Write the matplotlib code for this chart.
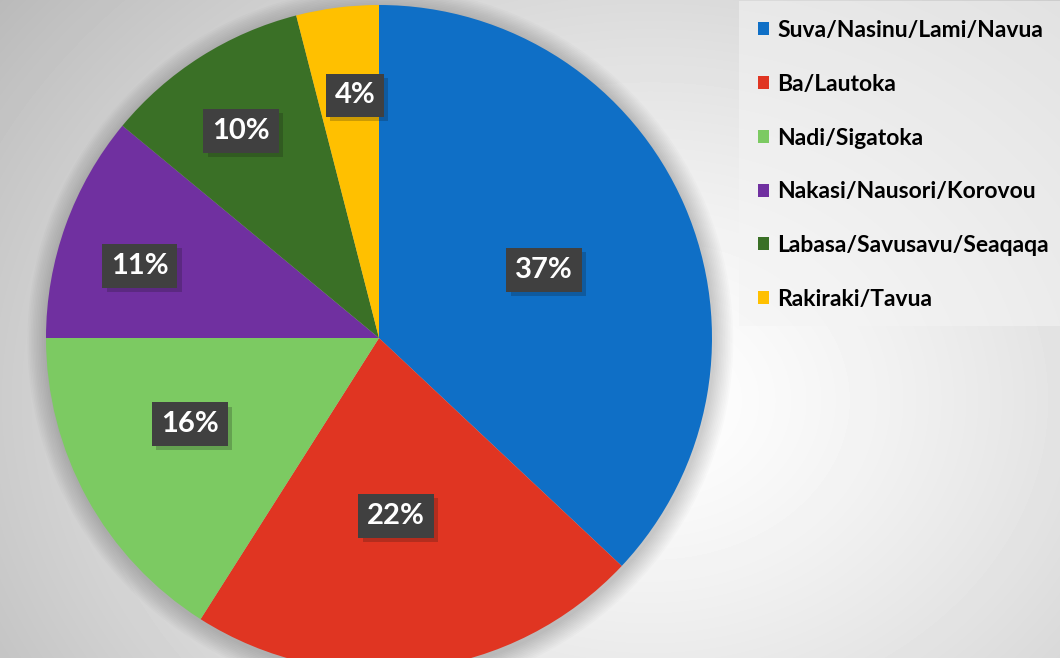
import numpy as np
import matplotlib
matplotlib.use('Agg')
import matplotlib.pyplot as plt
import matplotlib.patheffects as pe
from matplotlib.patches import Patch, Rectangle, Circle

regions = ['Suva/Nasinu/Lami/Navua', 'Ba/Lautoka', 'Nadi/Sigatoka',
           'Nakasi/Nausori/Korovou', 'Labasa/Savusavu/Seaqaqa', 'Rakiraki/Tavua']
shares = [37, 22, 16, 11, 10, 4]
colors = ['#0F6FC6', '#E03522', '#7CCA62', '#7030A0', '#3A7026', '#FFC000']
# where Excel's best fit put each label: fraction of radius, and turn off the mid angle (deg)
label_dist = [0.536, 0.537, 0.624, 0.75, 0.747, 0.732]
label_turn = [-1.0, -1.7, -4.3, 3.0, 1.3, -1.5]

plt.rcParams['font.family'] = ['Lato', 'DejaVu Sans']

W, H = 1060, 658
fig = plt.figure(figsize=(W / 100, H / 100), dpi=100)

# radial grey background
bg = fig.add_axes([0, 0, 1, 1])
yy, xx = np.mgrid[0:H, 0:W]
d = np.sqrt(((xx - 650) / 700) ** 2 + ((yy - 400) / 560) ** 2)
shade = 1.0 - 0.22 * np.clip(d, 0, 1.2) ** 1.3
bg.imshow(shade, cmap='gray', vmin=0, vmax=1, aspect='auto', interpolation='bilinear')
bg.set_axis_off()

# legend panel
bg.add_patch(Rectangle((738, 0), W - 738, 325, facecolor='#f4f4f4', alpha=0.55,
                       edgecolor='none'))

cx, cy, r = 379, 338, 333
ax = fig.add_axes([(cx - r) / W, (H - cy - r) / H, 2 * r / W, 2 * r / H])

# soft shadow round the pie
for k in range(12):
    ax.add_patch(Circle((0.004, -0.008), 1.0 + 0.005 * (12 - k), facecolor='black',
                        alpha=0.015, edgecolor='none', zorder=0, clip_on=False))

wedges, texts, autotexts = ax.pie(shares, colors=colors, startangle=90, counterclock=False,
                                  autopct='%d%%', radius=1.0,
                                  wedgeprops=dict(linewidth=0),
                                  textprops=dict(color='white', fontsize=21, fontweight='bold'))
ax.set_xlim(-1, 1)
ax.set_ylim(-1, 1)
ax.set_aspect('equal')
ax.set_axis_off()

for w, t, dist, turn in zip(wedges, autotexts, label_dist, label_turn):
    mid = np.deg2rad((w.theta1 + w.theta2) / 2 + turn)
    t.set_position((dist * np.cos(mid), dist * np.sin(mid)))
    t.set_ha('center')
    t.set_va('center')
    t.set_bbox(dict(boxstyle='square,pad=0.3', facecolor='#404040', edgecolor='none'))
    t.get_bbox_patch().set_path_effects([pe.withSimplePatchShadow(offset=(3, -3), alpha=0.22),
                                         pe.Normal()])

handles = [Patch(facecolor=c, edgecolor='none') for c in colors]
fig.legend(handles, regions, loc='upper left', bbox_to_anchor=(758 / W, 1 - 20 / H),
           frameon=False, borderaxespad=0, borderpad=0, handlelength=0.5, handleheight=0.5,
           handletextpad=0.35, labelspacing=1.43, prop=dict(weight='bold', size=16.5))

fig.savefig('out.png', dpi=100)
